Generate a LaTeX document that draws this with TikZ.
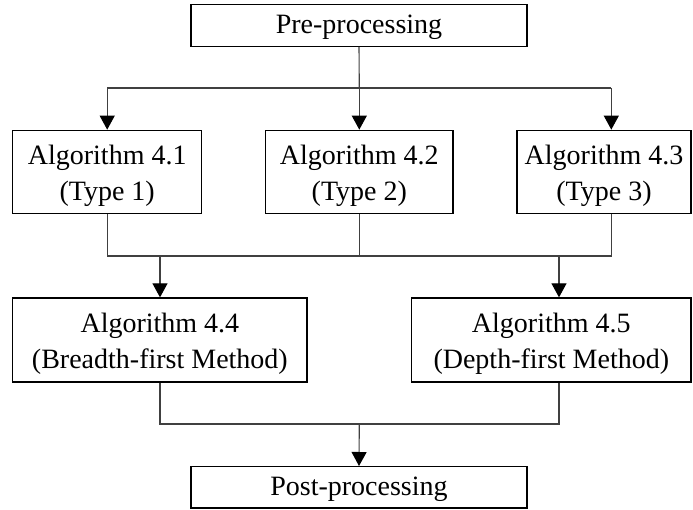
\documentclass[tikz,border=0pt]{standalone}
\usepackage{fontspec}
\setmainfont{Liberation Serif}
\usetikzlibrary{arrows.meta}
% invisible struts that set the height of a box's first text line
\newcommand{\tallline}{\rule{0pt}{27pt}}
\newcommand{\shortline}{\rule{0pt}{22pt}}
\begin{document}
\begin{tikzpicture}[x=1pt,y=-1pt,
  box/.style={draw=black,line width=1.3pt,align=center,inner sep=0pt,
    font=\fontsize{28}{36}\selectfont},
  link/.style={draw=black!75,line width=1.1pt},
  flow/.style={link,-{Triangle[length=14pt,width=15pt,color=black,fill=black]}}]
  \useasboundingbox (0,0) rectangle (693,510);

  % boxes
  \node[box,minimum width=336pt,minimum height=42pt] (pre) at (359,25.2) {\shortline Pre-processing};
  \node[box,minimum width=189pt,minimum height=83.4pt] (a41) at (107.2,172) {\tallline Algorithm 4.1\\(Type 1)};
  \node[box,minimum width=187.3pt,minimum height=83.4pt] (a42) at (359.3,172) {\tallline Algorithm 4.2\\(Type 2)};
  \node[box,minimum width=174pt,minimum height=83.4pt] (a43) at (604,172) {\tallline Algorithm 4.3\\(Type 3)};
  \node[box,minimum width=294.3pt,minimum height=84pt] (a44) at (159.9,340) {\tallline Algorithm 4.4\\(Breadth-first Method)};
  \node[box,minimum width=279.3pt,minimum height=84pt] (a45) at (551.3,340) {\tallline Algorithm 4.5\\(Depth-first Method)};
  \node[box,minimum width=336pt,minimum height=41.3pt] (post) at (359,487.3) {\shortline Post-processing};

  % junction points
  \coordinate (t1) at (107.2,88);
  \coordinate (t2) at (359.3,88);
  \coordinate (t3) at (611.3,88);
  \coordinate (m1) at (107.2,256);
  \coordinate (m2) at (359.3,256);
  \coordinate (m3) at (611.3,256);
  \coordinate (d1) at (160,256);
  \coordinate (d2) at (559,256);
  \coordinate (b1) at (160,424);
  \coordinate (b2) at (559,424);
  \coordinate (b3) at (359.3,424);

  % pre-processing fans out
  \draw[link] (pre.south) -- (t2);
  \draw[link] (t1) -- (t3);
  \draw[flow] (t1) -- (a41.north);
  \draw[flow] (t2) -- (a42.north);
  \draw[flow] (t3) -- (t3 |- a43.north);

  % the three types merge
  \draw[link] (a41.south) -- (m1) -- (m3) -- (a43.south -| m3);
  \draw[link] (a42.south) -- (m2);
  \draw[flow] (d1) -- (d1 |- a44.north);
  \draw[flow] (d2) -- (d2 |- a45.north);

  % both methods feed post-processing
  \draw[link] (d1 |- a44.south) -- (b1) -- (b2) -- (d2 |- a45.south);
  \draw[flow] (b3) -- (post.north);
\end{tikzpicture}
\end{document}
